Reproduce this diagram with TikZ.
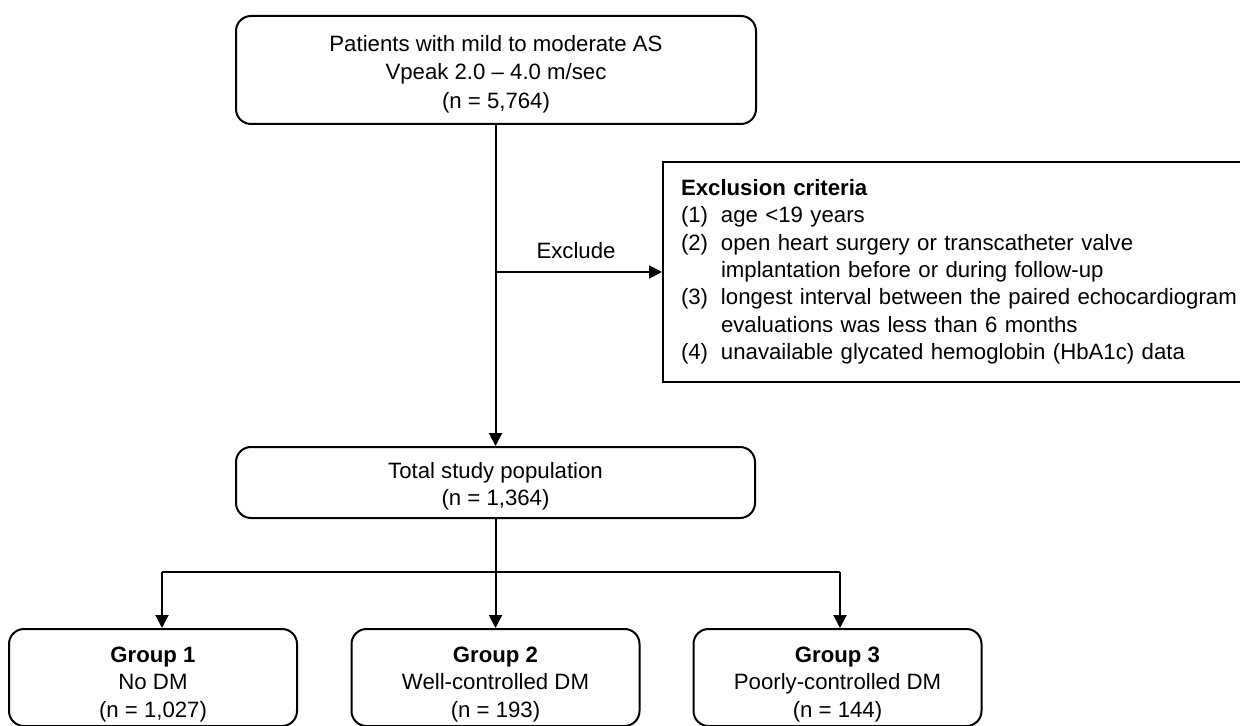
\documentclass[tikz,border=0pt]{standalone}
\usepackage{fontspec}
\setmainfont{Liberation Sans}
\usetikzlibrary{arrows.meta}
\newcommand\lowtext[2]{\raisebox{#1}[\height][\depth]{\begin{tabular}{@{}c@{}}#2\end{tabular}}}
\begin{document}
\begin{tikzpicture}[x=0.5pt,y=-0.5pt,
  every node/.style={font=\fontsize{11.1}{13.7}\selectfont},
  rbox/.style={draw, line width=1pt, rounded corners=7.5pt, align=center, inner sep=0pt},
  gbox/.style={rbox, minimum width=144pt, minimum height=48.5pt},
  sbox/.style={draw, line width=1pt, inner sep=0pt},
  conn/.style={line width=1pt},
  arr/.style={line width=1pt, -{Triangle[length=6.5pt,width=6.5pt]}}]
\useasboundingbox (0,0) rectangle (1240,726);
\node[rbox, minimum width=260pt, minimum height=54pt, font=\fontsize{11.1}{14.3}\selectfont] (top) at (496,70)
  {\lowtext{-2pt}{Patients with mild to moderate AS\\Vpeak 2.0 -- 4.0 m/sec\\(n = 5,764)}};
\node[sbox, anchor=west, minimum height=110pt, text width=273.5pt, inner xsep=9pt, align=left] (exc) at (662,272)
  {\begin{tabular}{@{}p{20pt}@{}l@{}}
   \multicolumn{2}{@{}l@{}}{\textbf{Exclusion criteria}}\\
   (1) & age <19 years\\
   (2) & open heart surgery or transcatheter valve\\
       & implantation before or during follow-up\\
   (3) & longest interval between the paired echocardiogram\\
       & evaluations was less than 6 months\\
   (4) & unavailable glycated hemoglobin (HbA1c) data
   \end{tabular}};
\node[rbox, minimum width=259.5pt, minimum height=35.5pt] (total) at (495.5,482.5)
  {\lowtext{-2pt}{Total study population\\(n = 1,364)}};
\node[gbox] (g1) at (153,677.5)
  {\lowtext{-3.5pt}{\textbf{Group 1}\\No DM\\(n = 1,027)}};
\node[gbox] (g2) at (495.5,677.5)
  {\lowtext{-3.5pt}{\textbf{Group 2}\\Well-controlled DM\\(n = 193)}};
\node[gbox] (g3) at (837.5,677.5)
  {\lowtext{-3.5pt}{\textbf{Group 3}\\Poorly-controlled DM\\(n = 144)}};
\coordinate (br) at (495.5,272);
\coordinate (h1) at (162,572);
\coordinate (h3) at (840,572);
\draw[arr] (br |- top.south) -- (br |- total.north);
\draw[arr] (br) -- (exc.west);
\node (exl) at (576,251) {Exclude};
\draw[conn] (total.south) -- (total.south |- h1);
\draw[conn] (h1) -- (h3);
\draw[arr] (h1) -- (h1 |- g1.north);
\draw[arr] (total.south |- h1) -- (g2.north);
\draw[arr] (h3) -- (h3 |- g3.north);
\end{tikzpicture}
\end{document}
